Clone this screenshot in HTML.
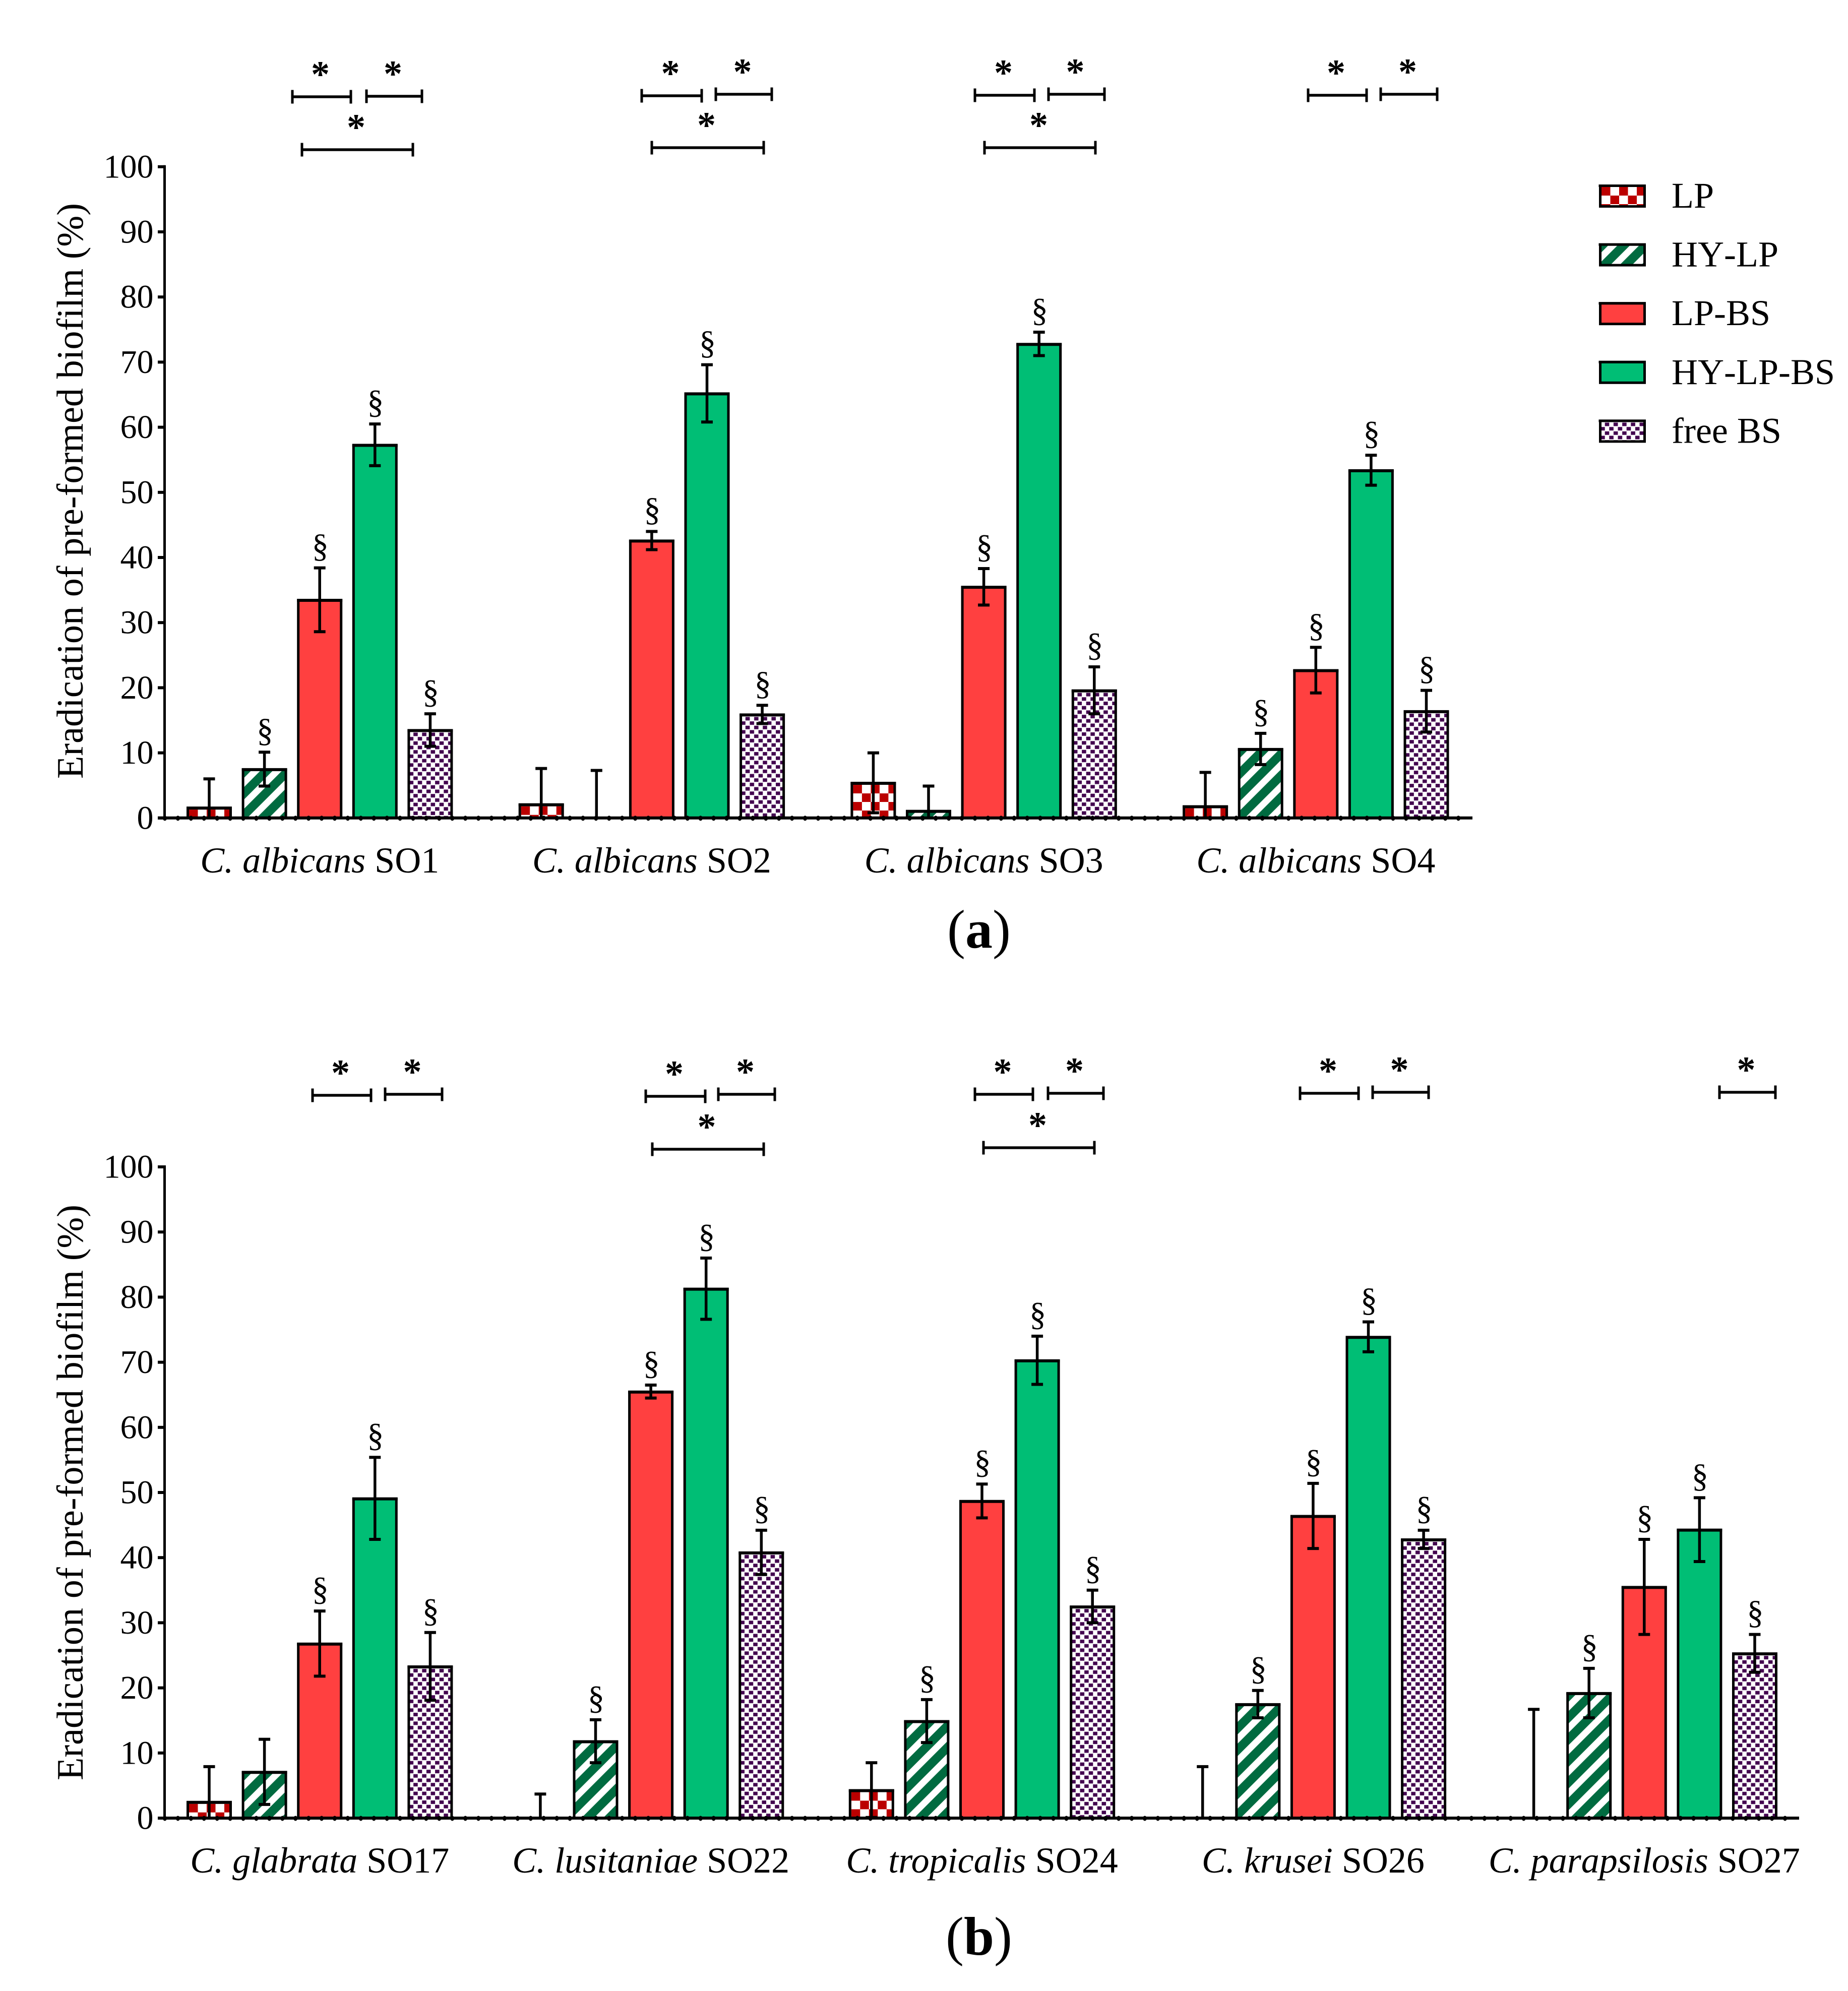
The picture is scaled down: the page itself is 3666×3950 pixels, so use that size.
<!DOCTYPE html>
<html lang="en">
<head>
<meta charset="utf-8">
<title>Eradication of pre-formed biofilm</title>
<style>
html,body{margin:0;padding:0;background:#fff;}
svg{display:block;}
text{font-family:"Liberation Serif","DejaVu Serif",serif;fill:#000;}
</style>
</head>
<body>
<svg id="chart" xmlns="http://www.w3.org/2000/svg" width="3666" height="3950" viewBox="0 0 3666 3950">
<defs id="defs"></defs>
</svg>
<script>
const seriesNames = ["LP", "HY-LP", "LP-BS", "HY-LP-BS", "free BS"];
const seriesKinds = ["check", "hatch", "#ff4040", "#00be75", "dots"];
const tickValues = [0, 10, 20, 30, 40, 50, 60, 70, 80, 90, 100];

// Panel (a)
const aSpecies = ["C. albicans", "C. albicans", "C. albicans", "C. albicans"];
const aStrains = ["SO1", "SO2", "SO3", "SO4"];
const aLP      = [1.6, 2.1, 5.4, 1.8];
const aLPErr   = [4.4, 5.5, 4.6, 5.2];
const aHY      = [7.5, 0, 1.1, 10.6];
const aHYErr   = [2.6, 7.3, 3.8, 2.4];
const aBS      = [33.5, 42.6, 35.5, 22.7];
const aBSErr   = [4.9, 1.4, 2.8, 3.5];
const aHYBS    = [57.3, 65.2, 72.8, 53.4];
const aHYBSErr = [3.2, 4.4, 1.8, 2.3];
const aFree    = [13.5, 15.9, 19.6, 16.4];
const aFreeErr = [2.5, 1.4, 3.6, 3.2];
const aMarkLP  = [0, 0, 0, 0];
const aMarkHY  = [1, 0, 0, 1];
const aMarkBS  = [1, 1, 1, 1];
const aMarkHYBS= [1, 1, 1, 1];
const aMarkFree= [1, 1, 1, 1];

// Panel (b)
const bSpecies = ["C. glabrata", "C. lusitaniae", "C. tropicalis", "C. krusei", "C. parapsilosis"];
const bStrains = ["SO17", "SO22", "SO24", "SO26", "SO27"];
const bLP      = [2.5, 0, 4.3, 0, 0];
const bLPErr   = [5.4, 3.7, 4.2, 7.9, 16.7];
const bHY      = [7.1, 11.8, 14.9, 17.5, 19.2];
const bHYErr   = [5.0, 3.3, 3.3, 2.1, 3.8];
const bBS      = [26.8, 65.5, 48.7, 46.4, 35.5];
const bBSErr   = [5.0, 1.0, 2.6, 5.0, 7.3];
const bHYBS    = [49.1, 81.3, 70.3, 73.9, 44.3];
const bHYBSErr = [6.3, 4.7, 3.7, 2.3, 4.9];
const bFree    = [23.3, 40.8, 32.5, 42.8, 25.3];
const bFreeErr = [5.2, 3.4, 2.5, 1.4, 2.9];
const bMarkLP  = [0, 0, 0, 0, 0];
const bMarkHY  = [0, 1, 1, 1, 1];
const bMarkBS  = [1, 1, 1, 1, 1];
const bMarkHYBS= [1, 1, 1, 1, 1];
const bMarkFree= [1, 1, 1, 1, 1];

// Significance brackets (annotation placement, not data): from, to, level
const aBrackets = [[580,696,192],[727,837,191],[599,819,297],[1273,1392,190],[1420,1531,187],[1293,1515,293],[1934,2052,189],[2080,2191,187],[1953,2173,293],[2595,2711,189],[2739,2851,187]];
const bBrackets = [[620,736,2173],[764,877,2171],[1281,1399,2175],[1425,1537,2171],[1294,1515,2280],[1934,2049,2171],[2079,2189,2169],[1951,2171,2277],[2579,2695,2169],[2723,2834,2167],[3411,3522,2167]];

const NS = "http://www.w3.org/2000/svg";
const svg = document.getElementById("chart");
const defs = document.getElementById("defs");
let patternCount = 0;
function mk(tag, attrs, parent) {
  const n = document.createElementNS(NS, tag);
  for (const k in attrs) n.setAttribute(k, attrs[k]);
  (parent || svg).appendChild(n);
  return n;
}

// Hatched fills are anchored to each bar's inner top-left corner, as in the reference.
function fillFor(kind, x, y) {
  if (kind[0] === "#") return kind;
  const id = "pat-" + (++patternCount);
  let p;
  if (kind === "check") {
    p = mk("pattern", {id: id, patternUnits: "userSpaceOnUse", width: 35, height: 34, x: x, y: y}, defs);
    mk("rect", {width: 35, height: 34, fill: "#fff"}, p);
    mk("rect", {width: 17.5, height: 17, fill: "#bb0000"}, p);
    mk("rect", {x: 17.5, y: 17, width: 17.5, height: 17, fill: "#bb0000"}, p);
  } else if (kind === "hatch") {
    p = mk("pattern", {id: id, patternUnits: "userSpaceOnUse", width: 30.4, height: 30.4, patternTransform: "translate(" + x + " " + y + ") rotate(-45)"}, defs);
    mk("rect", {width: 30.4, height: 30.4, fill: "#006b40"}, p);
    mk("rect", {y: 9, width: 30.4, height: 13, fill: "#fff"}, p);
  } else {
    p = mk("pattern", {id: id, patternUnits: "userSpaceOnUse", width: 17.2, height: 17.4, x: x - 1.9, y: y}, defs);
    mk("rect", {width: 17.2, height: 17.4, fill: "#fff"}, p);
    mk("rect", {x: 8.6, y: 1, width: 8.6, height: 7, fill: "#43064f"}, p);
    mk("rect", {x: 0, y: 9.7, width: 8.6, height: 7, fill: "#43064f"}, p);
  }
  return "url(#" + id + ")";
}

function drawPanel(cfg) {
  const yScale = v => cfg.baseY - v * 12.92;
  const xBar = (g, s) => 415 + g * cfg.groupStep + s * 109.6;
  const panel = mk("g", {});
  
  

  const values = [cfg.lp, cfg.hy, cfg.bs, cfg.hybs, cfg.free];
  const errors = [cfg.lpErr, cfg.hyErr, cfg.bsErr, cfg.hybsErr, cfg.freeErr];
  const marks = [cfg.mLp, cfg.mHy, cfg.mBs, cfg.mHybs, cfg.mFree];

  // bars
  cfg.strains.forEach((strain, g) => {
    seriesNames.forEach((name, s) => {
      const val = values[s][g];
      if (val <= 0) return;
      const top = yScale(val) - 2;
      const cx = xBar(g, s);
      const bar = mk("g", {}, panel);
      
      
      const fill = fillFor(seriesKinds[s], cx - 40, top + 6);
      mk("rect", {x: cx - 42.5, y: top + 3, width: 85, height: cfg.baseY - top - 3, fill: fill, stroke: "#000", "stroke-width": 5}, bar);
      mk("line", {x1: cx - 45, x2: cx + 45, y1: top + 3, y2: top + 3, stroke: "#000", "stroke-width": 6}, bar);
    });
  });

  // error bars and § markers
  cfg.strains.forEach((strain, g) => {
    seriesNames.forEach((name, s) => {
      const val = values[s][g], err = errors[s][g];
      const cx = xBar(g, s);
      const hi = yScale(val + err);
      const loVal = Math.max(0, val - err);
      const lo = yScale(loVal);
      const eb = mk("g", {stroke: "#000"}, panel);
      
      
      mk("line", {x1: cx, x2: cx, y1: hi, y2: lo, "stroke-width": 5.5}, eb);
      mk("line", {x1: cx - 11.5, x2: cx + 11.5, y1: hi, y2: hi, "stroke-width": 6}, eb);
      if (loVal > 0) mk("line", {x1: cx - 11.5, x2: cx + 11.5, y1: lo, y2: lo, "stroke-width": 6}, eb);
      if (marks[s][g]) {
        const t = mk("text", {x: cx + 1, y: hi - 22, "text-anchor": "middle", "font-size": 66}, panel);
        t.textContent = "§";
        
        
      }
    });
  });

  // y axis
  const yAxis = mk("line", {x1: 326.5, x2: 326.5, y1: yScale(100) - 3, y2: cfg.baseY + 2, stroke: "#000", "stroke-width": 5}, panel);
  
  
  tickValues.forEach(v => {
    const tick = mk("line", {x1: 313, x2: 327, y1: yScale(v), y2: yScale(v), stroke: "#000", "stroke-width": 6}, panel);
    
    
    const lab = mk("text", {x: 304.5, y: yScale(v) + 21.5, "text-anchor": "end", "font-size": 66}, panel);
    lab.textContent = String(v);
    
    
  });

  // x axis with dotted ticks
  const xAxis = mk("line", {x1: 313, x2: cfg.axisEnd, y1: cfg.baseY, y2: cfg.baseY, stroke: "#000", "stroke-width": 6}, panel);
  
  
  const dots = mk("g", {fill: "#000"}, panel);
  
  
  for (let x = 327; x < cfg.axisEnd - 10; x += 25.92) {
    mk("ellipse", {cx: x, cy: cfg.baseY + 0.5, rx: 4, ry: 5}, dots);
  }

  // category labels
  cfg.strains.forEach((strain, g) => {
    const t = mk("text", {x: xBar(g, 2), y: cfg.baseY + 108, "text-anchor": "middle", "font-size": 72}, panel);
    
    
    mk("tspan", {"font-style": "italic"}, t).textContent = cfg.species[g];
    mk("tspan", {}, t).textContent = " " + strain;
  });

  // axis title
  const title = mk("text", {transform: "translate(164 " + cfg.titleY + ") rotate(-90)", "text-anchor": "middle", "font-size": 74, textLength: 1142, lengthAdjust: "spacingAndGlyphs"}, panel);
  title.textContent = "Eradication of pre-formed biofilm (%)";
  
  

  // significance brackets
  cfg.brackets.forEach((b, i) => {
    const grp = mk("g", {stroke: "#000"}, panel);
    
    
    mk("line", {x1: b[0], x2: b[1], y1: b[2], y2: b[2], "stroke-width": 5.5}, grp);
    mk("line", {x1: b[0], x2: b[0], y1: b[2] - 13.5, y2: b[2] + 13.5, "stroke-width": 5}, grp);
    mk("line", {x1: b[1], x2: b[1], y1: b[2] - 13.5, y2: b[2] + 13.5, "stroke-width": 5}, grp);
    const star = mk("text", {x: (b[0] + b[1]) / 2 - 2.5, y: b[2] - 20, "text-anchor": "middle", "font-size": 74, "font-weight": "bold"}, panel);
    star.textContent = "*";
    
    
  });

  // panel letter
  const letter = mk("text", {x: 1942, y: cfg.letterY, "text-anchor": "middle", "font-size": 108}, panel);
  
  
  mk("tspan", {}, letter).textContent = "(";
  mk("tspan", {"font-weight": "bold"}, letter).textContent = cfg.id;
  mk("tspan", {}, letter).textContent = ")";
}

drawPanel({id: "a", baseY: 1622.8, groupStep: 658.7, axisEnd: 2921, titleY: 974, letterY: 1880,
  species: aSpecies, strains: aStrains, brackets: aBrackets,
  lp: aLP, lpErr: aLPErr, hy: aHY, hyErr: aHYErr, bs: aBS, bsErr: aBSErr, hybs: aHYBS, hybsErr: aHYBSErr, free: aFree, freeErr: aFreeErr,
  mLp: aMarkLP, mHy: aMarkHY, mBs: aMarkBS, mHybs: aMarkHYBS, mFree: aMarkFree});

drawPanel({id: "b", baseY: 3607, groupStep: 656.9, axisEnd: 3569, titleY: 2961, letterY: 3878,
  species: bSpecies, strains: bStrains, brackets: bBrackets,
  lp: bLP, lpErr: bLPErr, hy: bHY, hyErr: bHYErr, bs: bBS, bsErr: bBSErr, hybs: bHYBS, hybsErr: bHYBSErr, free: bFree, freeErr: bFreeErr,
  mLp: bMarkLP, mHy: bMarkHY, mBs: bMarkBS, mHybs: bMarkHYBS, mFree: bMarkFree});

// legend
const legend = mk("g", {});


seriesNames.forEach((name, i) => {
  const top = 366 + i * 116.6;
  const entry = mk("g", {}, legend);
  
  
  const fill = fillFor(seriesKinds[i], 3177, top + 5);
  mk("rect", {x: 3174.5, y: top + 2.5, width: 88, height: 41, fill: fill, stroke: "#000", "stroke-width": 5}, entry);
  mk("line", {x1: 3171.5, x2: 3265, y1: top + 2.5, y2: top + 2.5, stroke: "#000", "stroke-width": 5}, entry);
  const t = mk("text", {x: 3316, y: top + 46, "font-size": 72, style: "font-kerning:none"}, entry);
  t.textContent = name;
});
</script>
</body>
</html>
